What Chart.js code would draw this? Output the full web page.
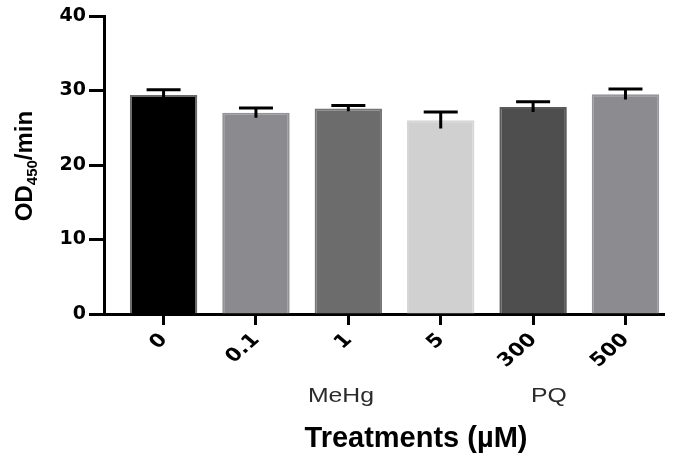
<!DOCTYPE html>
<html>
<head>
<meta charset="utf-8">
<script src="https://cdn.jsdelivr.net/npm/chart.js@4.4.1/dist/chart.umd.min.js"></script>
<style>
  html, body { margin: 0; padding: 0; background: #fff; }
  #chart { display: block; }
</style>
</head>
<body>
<canvas id="chart" width="678" height="458"></canvas>
<script>
// Data
const categories = ['0', '0.1', '1', '5', '300', '500'];
const means = [29.4, 27.0, 27.6, 26.0, 27.8, 29.5];
const errors = [0.7, 0.65, 0.4, 1.1, 0.7, 0.7];
const barColors = ['#000000', '#8b8a8f', '#6c6c6c', '#d0d0d0', '#4e4e4e', '#8c8b90'];
const barBorders = ['#6a6a6a', '#949398', '#767676', '#d6d6d6', '#5a5a5a', '#97969b'];
const yTicks = [0, 10, 20, 30, 40];
const groupLabels = ['MeHg', 'PQ'];
const groupCenters = [1.92, 4.17];   // in category units
const yTitle = { main: 'OD', sub: '450', tail: '/min' };
const xTitle = 'Treatments (µM)';

const FONT = '"Liberation Sans", Arial, sans-serif';
const TICKFONT = '"DejaVu Sans", sans-serif';

// error bars (SEM, cap on top only)
const errorBars = {
    id: 'errorBars',
    afterDatasetsDraw(chart) {
        const { ctx, scales: { x, y } } = chart;
        ctx.save();
        ctx.strokeStyle = '#000';
        ctx.lineWidth = 3;
        means.forEach((m, i) => {
            const px = x.getPixelForValue(i);
            const top = y.getPixelForValue(m + errors[i]);
            const bot = y.getPixelForValue(m - errors[i]);
            ctx.beginPath();
            ctx.moveTo(px, bot);
            ctx.lineTo(px, top);
            ctx.moveTo(px - 17, top);
            ctx.lineTo(px + 17, top);
            ctx.stroke();
        });
        ctx.restore();
    }
};

// axis titles, slanted category labels and group labels
const labels = {
    id: 'labels',
    afterDraw(chart) {
        const { ctx, scales: { x } } = chart;
        ctx.save();

        // category labels, 45 deg, a bit wide like the original
        ctx.font = 'bold 18.5px ' + TICKFONT;
        ctx.fillStyle = '#000';
        ctx.textAlign = 'right';
        ctx.textBaseline = 'middle';
        categories.forEach((c, i) => {
            ctx.save();
            ctx.translate(x.getPixelForValue(i) + 0.5, 337);
            ctx.scale(1.16, 1);
            ctx.rotate(-Math.PI / 4);
            ctx.fillText(c, 0, 0);
            ctx.restore();
        });

        // y title with subscript
        ctx.save();
        ctx.translate(32, 166);
        ctx.rotate(-Math.PI / 2);
        const big = 'bold 24px ' + FONT;
        const small = 'bold 15px ' + FONT;
        ctx.font = big;
        const w1 = ctx.measureText(yTitle.main).width;
        const w3 = ctx.measureText(yTitle.tail).width;
        ctx.font = small;
        const w2 = ctx.measureText(yTitle.sub).width;
        let start = -(w1 + w2 + w3) / 2;
        ctx.textBaseline = 'alphabetic';
        ctx.textAlign = 'left';
        ctx.font = big;
        ctx.fillText(yTitle.main, start, 0);
        ctx.font = small;
        ctx.fillText(yTitle.sub, start + w1, 5);
        ctx.font = big;
        ctx.fillText(yTitle.tail, start + w1 + w2, 0);
        ctx.restore();

        // group labels
        ctx.font = '21px ' + FONT;
        ctx.fillStyle = '#2a2a2a';
        ctx.textAlign = 'center';
        ctx.textBaseline = 'alphabetic';
        groupLabels.forEach((g, i) => {
            ctx.save();
            ctx.translate(x.getPixelForValue(groupCenters[i]), 402);
            ctx.scale(1.18, 1);
            ctx.fillText(g, 0, 0);
            ctx.restore();
        });

        // x title
        ctx.font = 'bold 29px ' + FONT;
        ctx.fillStyle = '#000';
        ctx.fillText(xTitle, 416, 447);
        ctx.restore();
    }
};

new Chart(document.getElementById('chart'), {
    type: 'bar',
    data: {
        datasets: [{
            data: categories.map((c, i) => ({ x: i, y: means[i] })),
            backgroundColor: barColors,
            borderColor: barBorders,
            borderWidth: 2,
            borderSkipped: 'bottom',
            barPercentage: 0.73,
            categoryPercentage: 1
        }]
    },
    options: {
        responsive: false,
        animation: false,
        devicePixelRatio: 1,
        layout: { padding: { left: 0, top: 16, right: 14, bottom: 0 } },
        plugins: {
            legend: { display: false },
            tooltip: { enabled: false }
        },
        scales: {
            x: {
                type: 'linear',
                min: -0.645,
                max: 5.417,
                offset: false,
                afterBuildTicks: (s) => {
                    s.ticks = categories.map((c, i) => ({ value: i }));
                },
                afterFit: (s) => { s.height = 458 - 314; },
                ticks: {
                    display: false
                },
                grid: {
                    display: true,
                    offset: false,
                    drawOnChartArea: false,
                    drawTicks: true,
                    tickLength: 11,
                    tickWidth: 3,
                    color: '#000'
                },
                border: { display: true, width: 3, color: '#000' }
            },
            y: {
                min: 0,
                max: 40,
                afterBuildTicks: (s) => {
                    s.ticks = yTicks.map(v => ({ value: v }));
                },
                afterFit: (s) => { s.width = 104; },
                ticks: {
                    color: '#000',
                    font: { family: TICKFONT, size: 19, weight: 'bold' },
                    padding: 3
                },
                grid: {
                    display: true,
                    drawOnChartArea: false,
                    drawTicks: true,
                    tickLength: 15,
                    tickWidth: 3,
                    color: '#000'
                },
                border: { display: true, width: 3, color: '#000' }
            }
        }
    },
    plugins: [errorBars, labels]
});
</script>
</body>
</html>
